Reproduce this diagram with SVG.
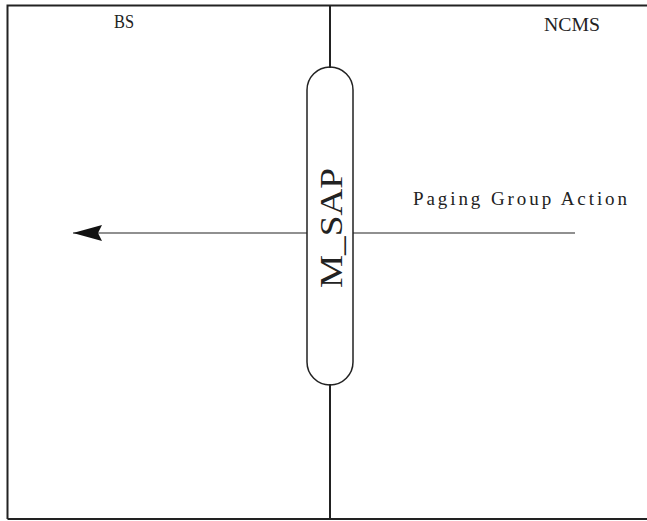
<svg xmlns="http://www.w3.org/2000/svg" width="647" height="521" viewBox="0 0 647 521">
<style>
.ln{stroke:#222;fill:none}
.t{font-family:"Liberation Serif",serif;fill:#222}
</style>
<defs>
<marker id="ah" markerWidth="30" markerHeight="16" refX="29" refY="8" orient="auto" markerUnits="userSpaceOnUse">
<path d="M0,0 L29,8 L0,16 L4,8 Z" fill="#111"/>
</marker>
</defs>
<rect width="647" height="521" fill="#fff"/>
<g id="frame">
<path class="ln" stroke-width="2" d="M7.5,519 V5.5 H647"/>
<path class="ln" stroke-width="2" d="M7.5,519 H647"/>
</g>
<g id="lanes">
<text class="t" x="114" y="28" font-size="19" textLength="20" lengthAdjust="spacingAndGlyphs">BS</text>
<text class="t" x="544" y="31" font-size="19" textLength="56" lengthAdjust="spacingAndGlyphs">NCMS</text>
</g>
<g id="connectors">
<line class="ln" stroke-width="2" x1="330" y1="5" x2="330" y2="68"/>
<line class="ln" stroke-width="2" x1="330" y1="384" x2="330" y2="519"/>
<line class="ln" stroke-width="1.2" x1="307" y1="233" x2="73" y2="233" marker-end="url(#ah)"/>
<line class="ln" stroke-width="1.2" x1="353" y1="233" x2="575" y2="233"/>
<text class="t" x="413" y="205" font-size="19" textLength="214" lengthAdjust="spacing">Paging Group Action</text>
</g>
<g id="msap">
<rect class="ln" stroke-width="1.5" x="307" y="67" width="46" height="318" rx="23" ry="23" fill="#fff"/>
<text class="t" transform="translate(342,288) rotate(-90)" font-size="32" textLength="120" lengthAdjust="spacingAndGlyphs">M_SAP</text>
</g>
</svg>
